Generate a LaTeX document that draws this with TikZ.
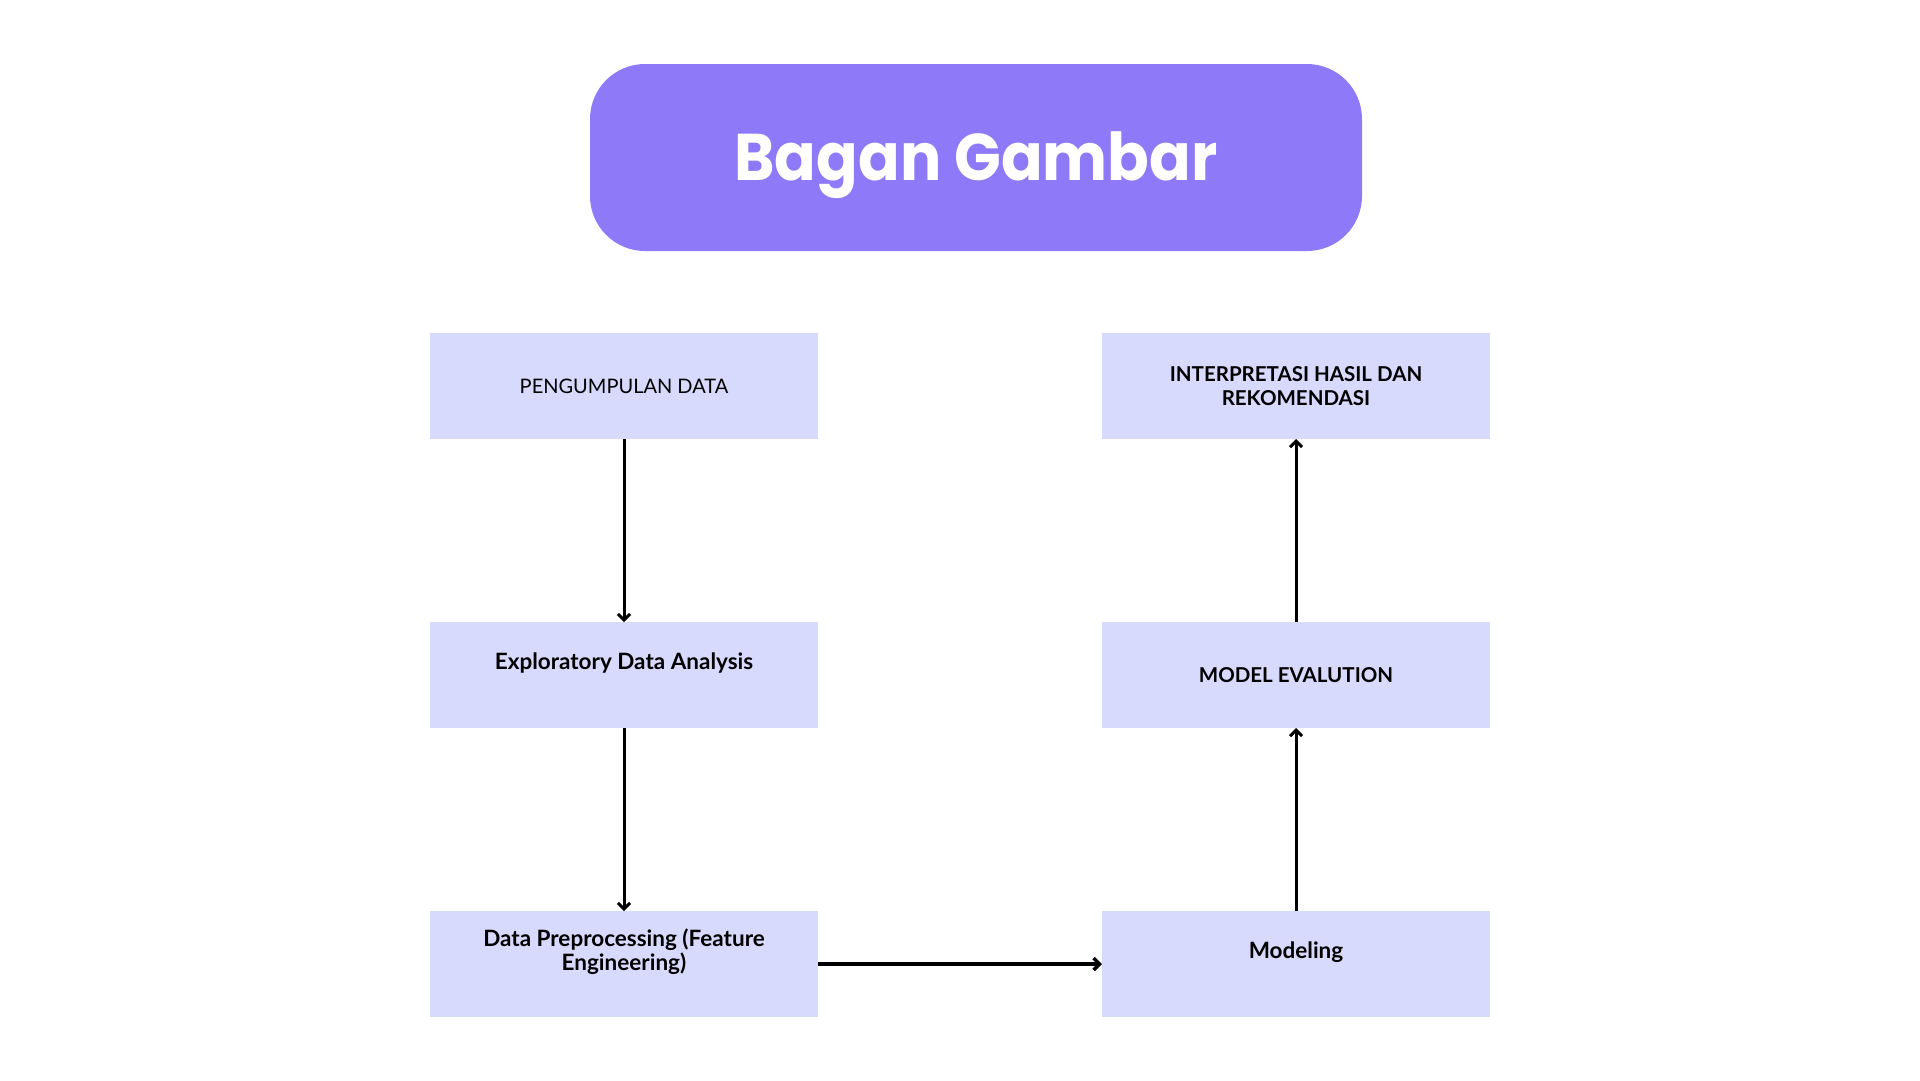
\documentclass[tikz,border=0pt]{standalone}
\usepackage{fontspec}
\usetikzlibrary{arrows.meta}
\setmainfont{Lato}
\newfontfamily\titlefont[FakeStretch=0.93]{Poppins}
\definecolor{titlefill}{HTML}{8E7AF8}
\definecolor{boxfill}{HTML}{D8DAFD}
\begin{document}
\begin{tikzpicture}[x=1pt,y=-1pt,>={Straight Barb[length=6pt,width=12pt]},
    stepbox/.style={shape=rectangle,fill=boxfill,minimum width=388pt,minimum height=106pt,inner sep=0pt,outer sep=0pt},
    boxtext/.style={font=\fontsize{20}{24}\selectfont,align=center,inner sep=0pt},
    boldcaps/.style={boxtext,font=\bfseries\fontsize{20.5}{24}\selectfont},
    boldmixed/.style={boxtext,font=\bfseries\fontsize{22.5}{24}\selectfont,yshift=12pt},
    flow/.style={->,line width=3pt}]
    \useasboundingbox (0,0) rectangle (1920,1080);
    \node[shape=rectangle,rounded corners=55pt,fill=titlefill,minimum width=772pt,minimum height=187pt,text=white,font=\titlefont\bfseries\fontsize{66}{70}\selectfont,text height=46pt,text depth=0pt] (T) at (976,157.5) {Bagan Gambar};

    \node[stepbox,label={[boxtext]center:PENGUMPULAN DATA}] (P) at (624,386) {};
    \node[stepbox,label={[boldmixed]center:Exploratory Data Analysis}] (E) at (624,675) {};
    \node[stepbox,label={[boldmixed]center:Data Preprocessing (Feature\\Engineering)}] (D) at (624,964) {};
    \node[stepbox,label={[boldmixed]center:Modeling}] (M) at (1296,964) {};
    \node[stepbox,label={[boldcaps]center:MODEL EVALUTION}] (V) at (1296,675) {};
    \node[stepbox,label={[boldcaps]center:INTERPRETASI HASIL DAN\\REKOMENDASI}] (I) at (1296,386) {};

    \path [flow] (P) edge (E);
    \path [flow] (E) edge (D);
    \path [flow,line width=3.5pt] (D) edge (M);
    \path [flow] (M) edge (V);
    \path [flow] (V) edge (I);
  \end{tikzpicture}
\end{document}
